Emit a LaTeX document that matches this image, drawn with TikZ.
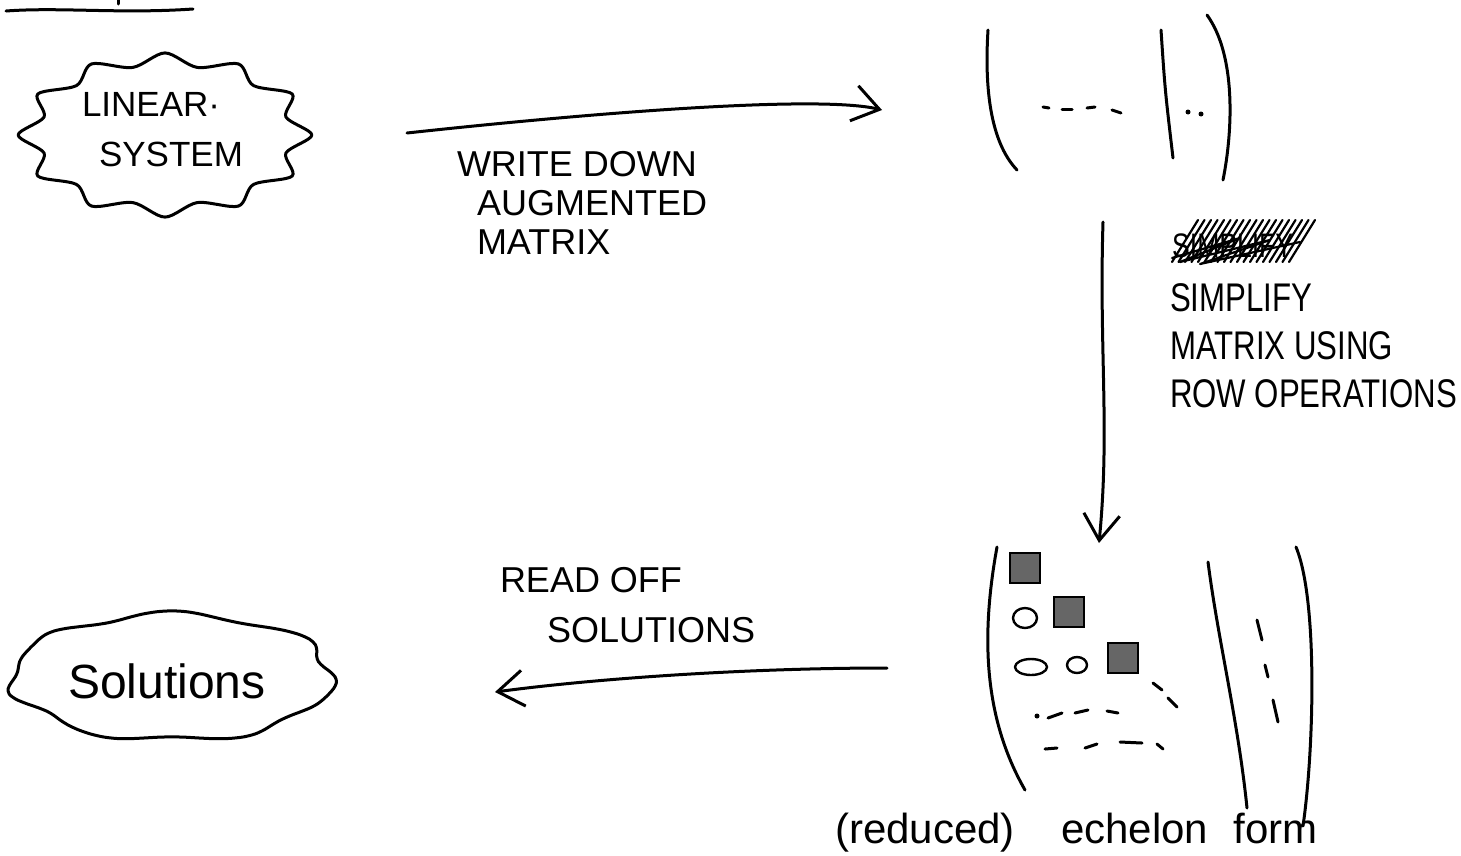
\documentclass[tikz,border=0pt]{standalone}
\usepackage{fontspec}
\newfontfamily\hand{Liberation Sans}
\newfontfamily\handn[FakeStretch=0.78]{Liberation Sans}
\usetikzlibrary{arrows.meta}
\begin{document}
\begin{tikzpicture}[x=1pt,y=-1pt,
  pen/.style={line width=3pt,line cap=round,line join=round},
  thinpen/.style={line width=2.2pt,line cap=round,line join=round},
  tip/.style={-{Straight Barb[length=26pt,width=36pt]}},
  lbl/.style={inner sep=0pt,outer sep=0pt,align=left,anchor=north west},
  pivot/.style={draw,line width=2.4pt,fill=black!60,minimum size=30pt,inner sep=0pt},
  zero/.style={pen,line width=2.4pt}]
\useasboundingbox[fill=white] (0,0) rectangle (1461,855);

% top-left underline (cut-off heading)
\draw[pen] (6,11) .. controls (60,7) and (120,14) .. (193,9);
\draw[pen] (118,0) -- (118,4);

% Linear system cloud
\node[lbl,font=\hand\fontsize{35}{50}\selectfont] (lin) at (82,92) {LINEAR·\\\hspace*{17pt}SYSTEM};
\draw[pen] plot[smooth cycle,domain=0:345,samples=24]
  ({165+136*(1+0.08*cos(12*\x))*cos(\x)},{135+76*(1+0.08*cos(12*\x))*sin(\x)});

% arrow 1
\coordinate (a1s) at (407,133);
\coordinate (a1e) at (882,110);
\draw[pen,tip] (a1s) .. controls (600,112) and (820,95) .. (a1e);
\node[lbl,font=\hand\fontsize{36}{39}\selectfont] (lab1) at (457,151)
  {WRITE DOWN\\\hspace*{20pt}AUGMENTED\\\hspace*{20pt}MATRIX};

% top matrix
\draw[pen] (988,30) .. controls (983,110) and (998,150) .. (1017,170);
\draw[pen] (1043,107) -- (1049,108);
\draw[pen] (1062,109) -- (1072,109);
\draw[pen] (1087,108) -- (1095,107);
\draw[pen] (1112,110) -- (1121,113);
\draw[pen] (1161,30) .. controls (1165,90) .. (1173,158);
\fill (1188,112) circle (2.5pt);
\fill (1201,114) circle (2.5pt);
\draw[pen] (1207,15) .. controls (1236,55) and (1233,130) .. (1223,180);

% scribbled-out word
\node[inner sep=0pt,anchor=base west,font=\handn\fontsize{34}{34}\selectfont] (scr) at (1172,257) {SIMPLIFY};
\foreach \i in {0,...,18}
  \draw[thinpen] ({1172+6.5*\i},262) -- ({1198+6.5*\i},220);
\draw[thinpen] (1172,258) -- (1240,238) -- (1180,262) -- (1270,240) -- (1200,264) -- (1300,242);

% arrow 2
\coordinate (v1) at (1103,222);
\coordinate (v2) at (1099,543);
\draw[pen,tip] (v1) .. controls (1099,350) and (1110,430) .. (v2);
\node[lbl,font=\handn\fontsize{40}{48}\selectfont] (lab2) at (1170,284)
  {SIMPLIFY\\MATRIX USING\\ROW OPERATIONS};

% bottom matrix
\draw[pen] (997,547) .. controls (980,640) and (985,720) .. (1025,790);
\node[pivot] (p1) at (1025,568) {};
\node[pivot] (p2) at (1069,612) {};
\node[pivot] (p3) at (1123,658) {};
\draw[zero] (1025,618) ellipse (12pt and 10pt);
\draw[zero] (1031,667) ellipse (16pt and 8pt);
\draw[zero] (1077,665) ellipse (10pt and 8pt);
\draw[pen] (1153,683) -- (1162,690);
\draw[pen] (1168,698) -- (1177,707);
\fill (1037,716) circle (2.5pt);
\draw[pen] (1048,718) -- (1062,713);
\draw[pen] (1075,713) -- (1088,710);
\draw[pen] (1107,711) -- (1118,713);
\draw[pen] (1045,749) -- (1057,748);
\draw[pen] (1085,748) -- (1097,744);
\draw[pen] (1120,742) -- (1142,743);
\draw[pen] (1157,744) -- (1163,749);
\draw[pen] (1208,562) .. controls (1218,640) and (1238,720) .. (1247,808);
\draw[pen] (1257,620) -- (1262,640);
\draw[pen] (1265,665) -- (1268,677);
\draw[pen] (1273,700) -- (1278,722);
\draw[pen] (1296,547) .. controls (1318,600) and (1314,750) .. (1303,826);
\node[inner sep=0pt,anchor=base west,font=\hand\fontsize{42}{42}\selectfont] (ech) at (835,843)
  {(reduced)\hspace{1.1em}echelon\hspace{0.6em}form};

% arrow 3
\coordinate (b1) at (887,668);
\coordinate (b2) at (495,692);
\draw[pen,tip] (b1) .. controls (750,668) and (600,678) .. (b2);
\node[lbl,font=\hand\fontsize{36}{50}\selectfont] (lab3) at (500,567)
  {READ OFF\\\hspace*{47pt}SOLUTIONS};

% Solutions cloud
\node[inner sep=0pt,anchor=base west,font=\hand\fontsize{48}{48}\selectfont] (sol) at (68,698) {Solutions};
\draw[pen] plot[smooth cycle,domain=0:355,samples=72]
  ({172+160*(1+0.035*sin(7*\x)+0.02*cos(11*\x))*cos(\x)},{677+63*(1+0.05*sin(7*\x))*sin(\x)});
\end{tikzpicture}
\end{document}
